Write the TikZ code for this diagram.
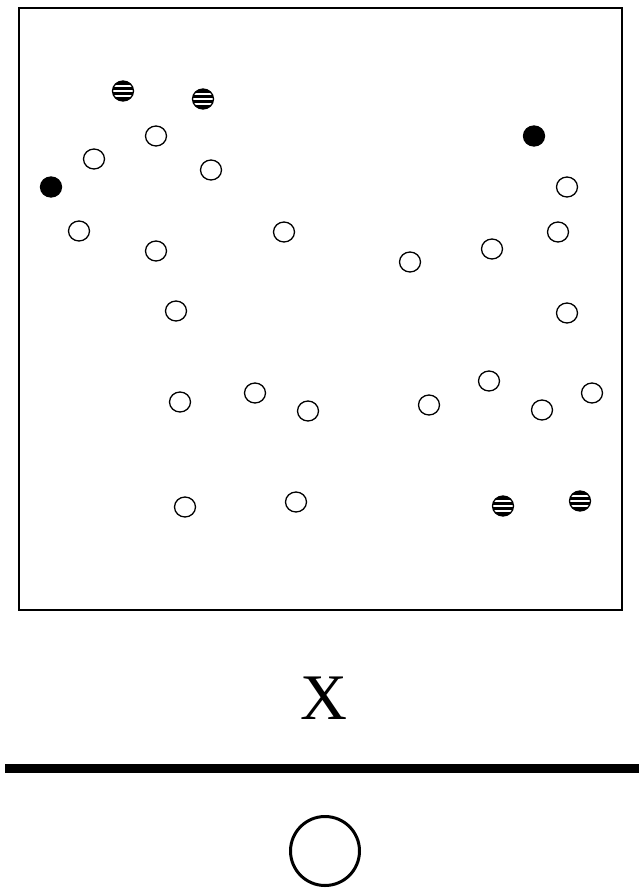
\documentclass[tikz,border=0pt]{standalone}
\usepackage{fontspec}
\setmainfont{Liberation Serif}
\usetikzlibrary{shapes.geometric}
\tikzset{
  dot/.style={ellipse, draw=black, line width=1.3pt, minimum width=21pt, minimum height=20pt, inner sep=0pt},
  opendot/.style={dot, fill=white},
  fulldot/.style={dot, fill=black},
  stripedot/.style={dot, fill=black, path picture={
    \foreach \dy in {-4.8,0,4.8}
      \draw[white, line width=1.7pt] ([yshift=\dy pt]path picture bounding box.west) -- ([yshift=\dy pt]path picture bounding box.east);}},
  frame/.style={draw=black, line width=1.8pt},
  bar/.style={draw=black, line width=9pt},
  bigdot/.style={ellipse, draw=black, line width=3pt, minimum width=69pt, minimum height=69pt, inner sep=0pt}
}
\begin{document}
\begin{tikzpicture}[x=1pt, y=-1pt]
\useasboundingbox (0,0) rectangle (639,888);
\fill[white] (0,0) rectangle (639,888);
\draw[frame] (19,8) rectangle (622,610);
% striped
\node[stripedot] (s1) at (123,91) {};
\node[stripedot] (s2) at (203,99) {};
\node[stripedot] (s3) at (503,506) {};
\node[stripedot] (s4) at (580,501) {};
% filled
\node[fulldot] (f1) at (51,187) {};
\node[fulldot] (f2) at (534,136) {};
% open
\node[opendot] (o1) at (156,136) {};
\node[opendot] (o2) at (94,159) {};
\node[opendot] (o3) at (211,170) {};
\node[opendot] (o4) at (79,231) {};
\node[opendot] (o5) at (156,251) {};
\node[opendot] (o6) at (284,232) {};
\node[opendot] (o7) at (567,187) {};
\node[opendot] (o8) at (558,232) {};
\node[opendot] (o9) at (492,249) {};
\node[opendot] (o10) at (410,262) {};
\node[opendot] (o11) at (176,311) {};
\node[opendot] (o12) at (567,313) {};
\node[opendot] (o13) at (180,402) {};
\node[opendot] (o14) at (255,393) {};
\node[opendot] (o15) at (308,411) {};
\node[opendot] (o16) at (429,405) {};
\node[opendot] (o17) at (489,381) {};
\node[opendot] (o18) at (542,410) {};
\node[opendot] (o19) at (592,393) {};
\node[opendot] (o20) at (185,507) {};
\node[opendot] (o21) at (296,502) {};
% fraction
\node[inner sep=0pt, font=\fontsize{65}{65}\selectfont] (xl) at (324,698) {X};
\coordinate (bl) at (5,768);
\coordinate (br) at (639,768);
\draw[bar] (bl) -- (br);
\node[bigdot] (big) at (325,851) {};
\end{tikzpicture}
\end{document}
